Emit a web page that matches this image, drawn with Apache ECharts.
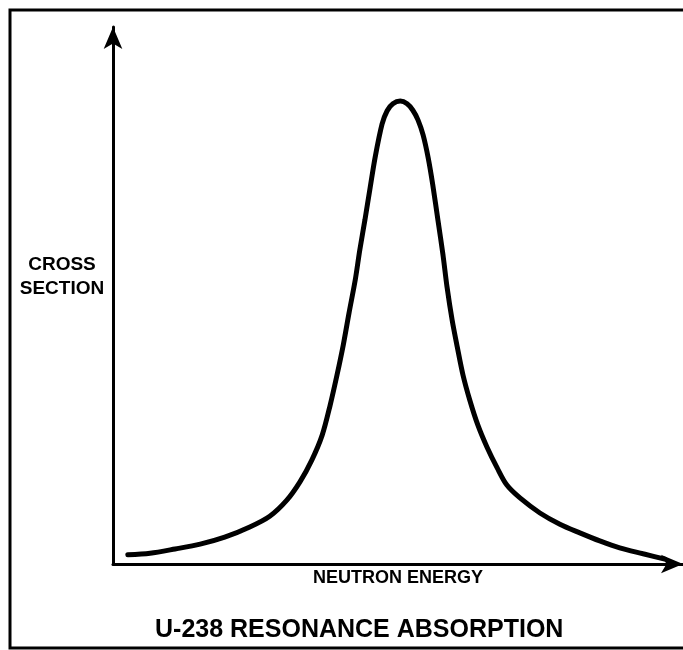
<!DOCTYPE html>
<html>
<head>
<meta charset="utf-8">
<script src="https://cdn.jsdelivr.net/npm/echarts@6/dist/echarts.min.js"></script>
<style>
html,body{margin:0;padding:0;background:#fff;overflow:hidden;}
#chart{width:683px;height:650px;}
</style>
</head>
<body>
<div id="chart"></div>
<script>
// Neutron energy (arbitrary units, 0-100 along axis)
var energy = [2.6, 6.5, 10.9, 15.3, 19.6, 24.0, 27.5, 30.5, 32.8, 34.9, 36.7, 38.1, 39.3, 40.4, 41.4, 42.5, 43.3, 44.2, 45.1, 46.0, 47.2, 48.1, 49.1, 50.4, 51.6, 52.6, 53.5, 54.4, 55.3, 56.1, 57.0, 57.9, 58.6, 59.5, 60.4, 61.4, 62.6, 64.0, 65.6, 67.4, 69.1, 71.4, 74.9, 78.4, 81.9, 85.4, 88.9, 93.0, 96.8];
// Cross section (arbitrary units, 0-100 along axis)
var crossSection = [1.7, 2.0, 2.8, 3.7, 5.0, 6.9, 8.9, 11.9, 15.3, 19.4, 24.0, 29.6, 35.2, 40.8, 46.7, 52.9, 58.5, 64.1, 70.0, 75.8, 81.9, 84.4, 85.7, 86.2, 85.7, 84.5, 82.7, 79.9, 75.6, 70.6, 64.1, 57.5, 51.6, 45.4, 40.4, 35.2, 30.5, 25.9, 21.8, 17.9, 14.7, 12.3, 9.5, 7.4, 5.8, 4.3, 3.0, 1.9, 0.9];

var titleText = 'U-238 RESONANCE ABSORPTION';
var xName = 'NEUTRON ENERGY';
var yName = 'CROSS\nSECTION';

var points = energy.map(function (e, i) { return [e, crossSection[i]]; });
var font = '"Liberation Sans", Arial, Helvetica, sans-serif';

var chart = echarts.init(document.getElementById('chart'), null, {renderer: 'canvas'});
var axisCommon = {
  type: 'value', min: 0, max: 100,
  axisLine: {show: true, symbol: ['none', 'arrow'], symbolSize: [14, 22], lineStyle: {color: '#000', width: 3}},
  axisTick: {show: false}, axisLabel: {show: false}, splitLine: {show: false}
};
chart.setOption({
  animation: false,
  backgroundColor: '#fff',
  title: {
    text: titleText, left: 150, top: 613,
    textStyle: {fontFamily: font, fontWeight: 'bold', fontSize: 25, color: '#000'}
  },
  grid: {left: 113, right: 0, top: 27, bottom: 86, containLabel: false},
  xAxis: axisCommon,
  yAxis: axisCommon,
  graphic: [
    {type: 'rect', shape: {x: 10, y: 10, width: 760, height: 638}, style: {fill: 'none', stroke: '#000', lineWidth: 3}, z: 10},
    {type: 'text', left: 313, top: 569, style: {text: xName, font: 'bold 18px ' + font, fill: '#000'}},
    {type: 'text', x: 62, y: 253, style: {text: yName, font: 'bold 19px ' + font, fill: '#000', align: 'center', lineHeight: 24}}
  ],
  series: [{
    type: 'line', data: points, smooth: 0.3, showSymbol: false, symbol: 'none',
    lineStyle: {color: '#000', width: 5, cap: 'round'}
  }]
});
</script>
</body>
</html>
